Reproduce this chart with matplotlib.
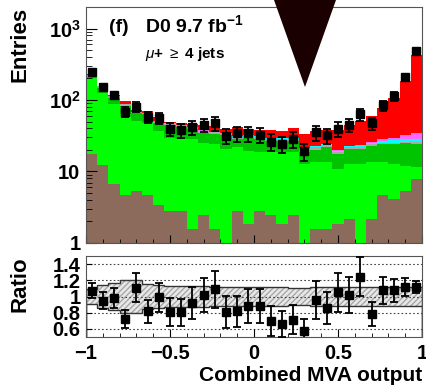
import numpy as np
import matplotlib
matplotlib.use('Agg')
import matplotlib.pyplot as plt
from matplotlib.patches import Polygon
from matplotlib.ticker import MultipleLocator, LogLocator, NullFormatter

plt.rcParams['font.family'] = ['Liberation Sans', 'DejaVu Sans']
plt.rcParams['mathtext.fontset'] = 'custom'
plt.rcParams['mathtext.rm'] = 'Liberation Sans'
plt.rcParams['mathtext.bf'] = 'Liberation Sans:bold'
plt.rcParams['mathtext.it'] = 'Liberation Sans:italic'

# 30 bins of the combined MVA output
edges = np.linspace(-1, 1, 31)

# stacked backgrounds, bottom to top
brown = [17.2, 12, 6.3, 4.4, 5.1, 4.4, 3.1, 2.5, 2.5, 1.25, 2.2, 1.25, 0, 2.5, 1.57,
         2.5, 2.2, 1.57, 2.2, 0, 1.25, 1.25, 1.57, 1.9, 0, 1.9, 4.4, 3.8, 5.0, 7.5]
light_green = [182.8, 115, 80.7, 58.6, 45.5, 43.6, 33.5, 27, 25.5, 26.75, 22.9, 22.55, 20.2, 18.9, 17.5,
               15.7, 16, 16.6, 16, 12.4, 11.85, 11.85, 9.0, 10.5, 12.4, 11.2, 8.7, 8.6, 6.8, 3.7]
dark_green = [12, 18, 21, 19, 14.4, 15, 11.4, 14.5, 13, 11, 9.6, 9.1, 11.6, 6.6, 10.4,
              9.8, 8.3, 8.3, 8.3, 5.8, 6.4, 8.3, 6.6, 7.8, 7.8, 9.4, 10.7, 11.4, 12.7, 12.8]
grey = [14, 10, 6, 5, 3, 3, 2.6, 2.5, 2.5, 2.5, 2, 2.5, 2.5, 2.3, 2.3,
        2.3, 2.1, 2.1, 2.1, 2, 2.5, 2, 1.5, 1.2, 1.2, 1.2, 1.2, 1.2, 1.2, 1.2]
cyan = [0.3] * 22 + [0.5, 0.8, 1, 1.2, 1.5, 2, 2.5, 3]
magenta = [0.2] * 22 + [0.3, 0.5, 0.8, 1, 1.5, 2, 4, 6]
red = [4.5, 2.5, 3.5, 7.5, 4.5, 4.5, 5.9, 2, 3, 3.6, 6.8, 7.3, 4.4, 10.7, 6.2,
       6.7, 8.4, 7.9, 10.9, 12.8, 14.5, 13.6, 18.1, 21.3, 27.8, 34.1, 50, 76, 154.8, 394.8]

data = [248, 150, 116, 69, 81, 58, 56.5, 39.5, 37.8, 42, 45, 47, 31.8, 34, 34,
        32.9, 26.2, 24.3, 28.6, 19.1, 35.4, 32.1, 39.5, 45, 63.5, 47, 84, 113, 209, 480]
ratio_err = [0.096, 0.108, 0.12, 0.11, 0.18, 0.14, 0.18, 0.17, 0.17, 0.2, 0.21, 0.23, 0.2, 0.19, 0.21,
             0.21, 0.18, 0.16, 0.18, 0.15, 0.23, 0.2, 0.24, 0.22, 0.24, 0.15, 0.17, 0.14, 0.11, 0.07]
band_err = [0.09, 0.14, 0.17, 0.2, 0.2, 0.16, 0.14, 0.13, 0.13, 0.13, 0.13, 0.12, 0.12, 0.12, 0.12,
            0.12, 0.12, 0.12, 0.11, 0.11, 0.12, 0.12, 0.12, 0.12, 0.12, 0.12, 0.12, 0.12, 0.12, 0.12]

layers = [brown, light_green, dark_green, grey, cyan, magenta, red]
colors = ['#8c6a5c', '#00ff00', '#00c400', '#a8a8a8', '#00ffff', '#ff66ff', '#ff0000']

centers = 0.5 * (edges[:-1] + edges[1:])
data = np.array(data)
total = np.sum(np.array(layers), axis=0)
ratio = data / total
ratio_err = np.array(ratio_err)
band_err = np.array(band_err)

fig = plt.figure(figsize=(4.26, 3.86), dpi=100)
ax = fig.add_axes([0.2019, 0.3705, 0.7887, 0.6114])
axr = fig.add_axes([0.2019, 0.1269, 0.7887, 0.2098])

base = np.full(len(centers), 0.3)
for vals, col in zip(layers, colors):
    top = base + np.array(vals)
    ax.stairs(top, edges, baseline=base, fill=True, color=col, lw=0)
    base = top

ax.errorbar(centers, data, yerr=ratio_err * total, fmt='s', color='black', ms=5.3,
            elinewidth=1.3, capsize=3, capthick=1.3)

ax.set_yscale('log')
ax.set_xlim(-1, 1)
ax.set_ylim(1, 2000)
ax.set_yticks([1, 10, 100, 1000])
ax.set_yticklabels(['1', '10', r'$\mathbf{10^{2}}$', r'$\mathbf{10^{3}}$'])
ax.yaxis.set_minor_locator(LogLocator(base=10, subs=np.arange(2, 10)))
ax.yaxis.set_minor_formatter(NullFormatter())
ax.xaxis.set_major_locator(MultipleLocator(0.5))
ax.xaxis.set_minor_locator(MultipleLocator(0.1))
ax.tick_params(axis='x', labelbottom=False)
ax.set_ylabel('Entries', loc='top', fontsize=16, fontweight='bold')
ax.yaxis.set_label_coords(-0.165, 1.0)

ax.text(0.068, 0.894, '(f)', transform=ax.transAxes,
        fontsize=14, fontweight='bold', va='baseline')
ax.text(0.177, 0.894, r'D0 9.7 fb$^{\mathbf{-1}}$', transform=ax.transAxes,
        fontsize=14, fontweight='bold', va='baseline')
ax.text(0.177, 0.785, r'$\mu$+ $\geq$ 4 jets', transform=ax.transAxes,
        fontsize=11, fontweight='bold', va='baseline')

# ratio panel
lo = 1 - band_err
hi = 1 + band_err
axr.stairs(hi, edges, baseline=lo, fill=True, facecolor='#e8e8e8', edgecolor='#a8a8a8',
           hatch='//////', lw=0)
axr.stairs(hi, edges, color='#333333', lw=1.0)
axr.stairs(lo, edges, color='#333333', lw=1.0)
for yv in [0.6, 0.8, 1.0, 1.2, 1.4]:
    axr.axhline(yv, color='#444444', ls=(0, (1.5, 2)), lw=0.8, zorder=1.5)
axr.errorbar(centers, ratio, yerr=ratio_err, fmt='s', color='black', ms=5.3,
             elinewidth=1.3, capsize=3, capthick=1.3, zorder=3)
axr.set_xlim(-1, 1)
axr.set_ylim(0.5, 1.5)
axr.set_yticks([0.6, 0.8, 1.0, 1.2, 1.4])
axr.set_yticklabels(['0.6', '0.8', '1', '1.2', '1.4'])
axr.xaxis.set_major_locator(MultipleLocator(0.5))
axr.xaxis.set_minor_locator(MultipleLocator(0.1))
axr.set_xticks([-1, -0.5, 0, 0.5, 1])
axr.set_xticklabels(['\u22121', '\u22120.5', '0', '0.5', '1'])
axr.set_ylabel('Ratio', loc='top', fontsize=16, fontweight='bold')
axr.yaxis.set_label_coords(-0.165, 1.0)
axr.set_xlabel('Combined MVA output', loc='right', fontsize=15, fontweight='bold')
axr.xaxis.set_label_coords(1.0, -0.36)

for a in (ax, axr):
    for s in a.spines.values():
        s.set_color('#555555')
        s.set_linewidth(0.8)
    a.tick_params(which='both', direction='in', right=False, top=False, labelsize=14.5)
    a.tick_params(which='major', length=6)
    a.tick_params(which='minor', length=3)
    for lab in a.get_xticklabels() + a.get_yticklabels():
        lab.set_fontweight('bold')
ax.tick_params(axis='y', which='major', length=8, pad=4)
ax.tick_params(axis='y', which='minor', length=4)
axr.tick_params(axis='y', which='both', length=4, pad=4)
axr.tick_params(axis='x', pad=5)

# dark triangle overlapping the top of the plot
tri = Polygon([[274 / 426, 1.0], [336 / 426, 1.0], [305 / 426, 1 - 87 / 386]],
              closed=True, transform=fig.transFigure, facecolor='#1a0000', edgecolor='none', zorder=10)
fig.add_artist(tri)

fig.savefig('out.png', dpi=100)
